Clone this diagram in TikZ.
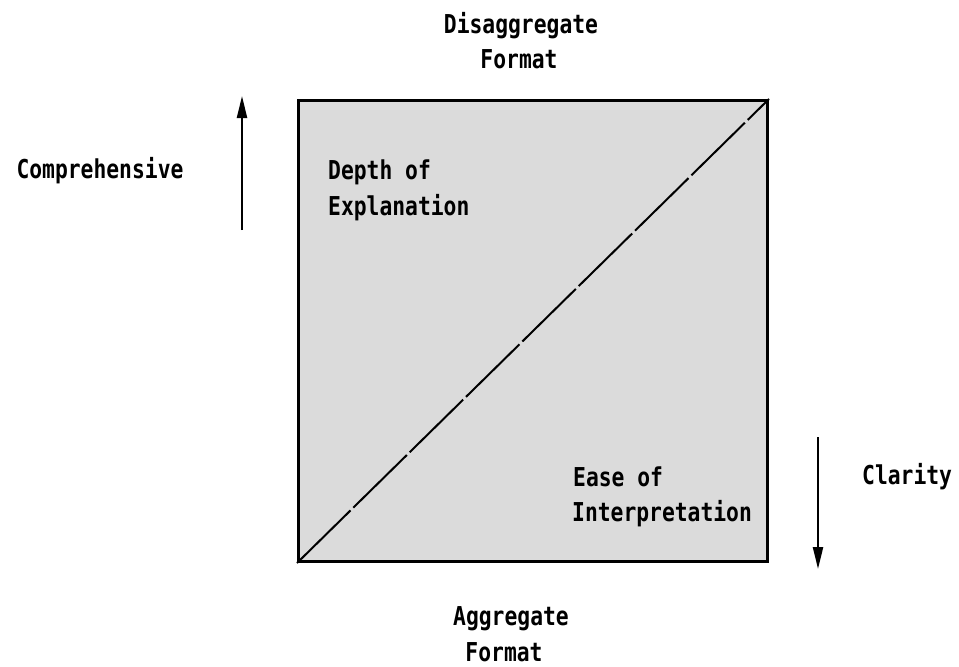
\documentclass[tikz,border=0pt]{standalone}
\usepackage{fontspec}
\setmainfont{DejaVu Sans Mono}[FakeStretch=0.82]
\usetikzlibrary{arrows.meta}
\tikzset{
  lbl/.style={font=\bfseries\fontsize{26}{28}\selectfont, inner sep=0pt},
  axisarrow/.style={line width=2.4pt, -{Triangle[length=22pt,width=10pt]}},
  panel/.style={draw=black, line width=3pt, fill=black!14},
  diag/.style={line width=2pt, dash pattern=on 75pt off 4pt}
}
\begin{document}
\begin{tikzpicture}[x=1pt,y=-1pt]
\useasboundingbox (0,0) rectangle (959,667);
% square
\coordinate (bl) at (297,563);
\node[panel, minimum width=469pt, minimum height=461pt, inner sep=0pt, anchor=south west] (sq) at (bl) {};
\draw[diag] (sq.south west) -- (sq.north east);
% labels
\node[lbl] (dis) at (521,26) {Disaggregate};
\node[lbl] (fmt1) at (519,59) {Format};
\node[lbl] (agg) at (511,619) {Aggregate};
\node[lbl] (fmt2) at (504,652) {Format};
\node[lbl] (comp) at (100,171) {Comprehensive};
\node[lbl, anchor=west] (dep) at (328,172) {Depth of};
\node[lbl, anchor=west] (exp) at (328,208) {Explanation};
\node[lbl, anchor=west] (ease) at (573,477) {Ease of};
\node[lbl, anchor=west] (int) at (572,514) {Interpretation};
\node[lbl, anchor=west] (cla) at (862,477) {Clarity};
% arrows
\coordinate (ua0) at (242,230);
\coordinate (ua1) at (242,96);
\draw[axisarrow] (ua0) -- (ua1);
\coordinate (da0) at (818,437);
\coordinate (da1) at (818,569);
\draw[axisarrow] (da0) -- (da1);
\end{tikzpicture}
\end{document}
